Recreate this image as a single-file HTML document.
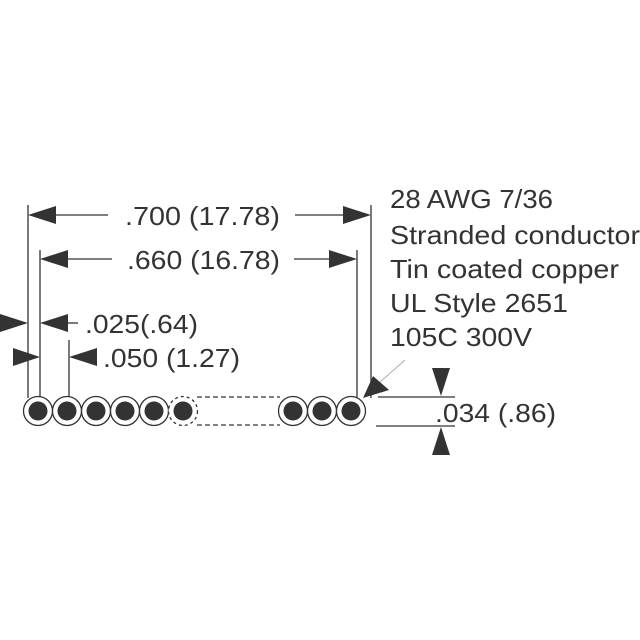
<!DOCTYPE html>
<html><head><style>body{margin:0;background:#fff}svg{display:block}text{font-family:"Liberation Sans",sans-serif;fill:#333;font-size:26px}</style></head><body>
<svg width="640" height="640" viewBox="0 0 640 640">
<g stroke="#333" stroke-width="1.3" fill="none">
<line x1="28" y1="205" x2="28" y2="398"/>
<line x1="40" y1="250" x2="40" y2="400"/>
<line x1="69" y1="340" x2="69" y2="400"/>
<line x1="357" y1="250" x2="357" y2="400"/>
<line x1="371" y1="205" x2="371" y2="398"/>
<line x1="55" y1="215" x2="108" y2="215"/>
<line x1="295" y1="215" x2="345" y2="215"/>
<line x1="68" y1="259" x2="112" y2="259"/>
<line x1="294" y1="259" x2="330" y2="259"/>
<line x1="68" y1="323" x2="78" y2="323"/>
<line x1="378" y1="397" x2="455" y2="397"/>
<line x1="376" y1="426" x2="455" y2="426"/>
<line x1="380" y1="382" x2="405" y2="360" stroke="#aaa" stroke-width="1"/>
</g>
<g fill="#333">
<polygon points="28,215 56,206 56,224"/>
<polygon points="371,215 343,206 343,224"/>
<polygon points="40,259 68,250 68,268"/>
<polygon points="357,259 329,250 329,268"/>
<polygon points="28,323 0,314 0,332"/>
<polygon points="40,323 68,314 68,332"/>
<polygon points="40,357 13,348 13,366"/>
<polygon points="69,357 97,348 97,366"/>
<polygon points="363,398 373,376 389,390"/>
<polygon points="441,396 432,368 450,368"/>
<polygon points="441,427 432,455 450,455"/>
</g>
<g stroke="#333" stroke-width="1.3" fill="#fff">
<circle cx="38" cy="411" r="14.5"/><circle cx="67" cy="411" r="14.5"/><circle cx="96" cy="411" r="14.5"/><circle cx="125" cy="411" r="14.5"/><circle cx="154" cy="411" r="14.5"/>
<circle cx="293" cy="411" r="14.5"/><circle cx="322" cy="411" r="14.5"/><circle cx="351" cy="411" r="14.5"/>
<circle cx="183" cy="411" r="14.5" stroke-dasharray="3,3"/>
<path d="M197 397 H280 M197 425 H280" stroke-dasharray="5,3"/>
</g>
<g fill="#333">
<circle cx="38" cy="411" r="9.5"/><circle cx="67" cy="411" r="9.5"/><circle cx="96" cy="411" r="9.5"/><circle cx="125" cy="411" r="9.5"/><circle cx="154" cy="411" r="9.5"/><circle cx="183" cy="411" r="9.5"/>
<circle cx="293" cy="411" r="9.5"/><circle cx="322" cy="411" r="9.5"/><circle cx="351" cy="411" r="9.5"/>
</g>
<text x="125" y="225" textLength="155" lengthAdjust="spacingAndGlyphs">.700 (17.78)</text>
<text x="127" y="269" textLength="153" lengthAdjust="spacingAndGlyphs">.660 (16.78)</text>
<text x="85" y="333" textLength="113" lengthAdjust="spacingAndGlyphs">.025(.64)</text>
<text x="103" y="367" textLength="137" lengthAdjust="spacingAndGlyphs">.050 (1.27)</text>
<text x="435" y="422" textLength="121" lengthAdjust="spacingAndGlyphs">.034 (.86)</text>
<text x="390" y="208" textLength="163" lengthAdjust="spacingAndGlyphs">28 AWG 7/36</text>
<text x="390" y="244" textLength="250" lengthAdjust="spacingAndGlyphs">Stranded conductor</text>
<text x="390" y="278" textLength="229" lengthAdjust="spacingAndGlyphs">Tin coated copper</text>
<text x="390" y="312" textLength="178" lengthAdjust="spacingAndGlyphs">UL Style 2651</text>
<text x="390" y="346" textLength="142" lengthAdjust="spacingAndGlyphs">105C 300V</text>
</svg>
</body></html>
